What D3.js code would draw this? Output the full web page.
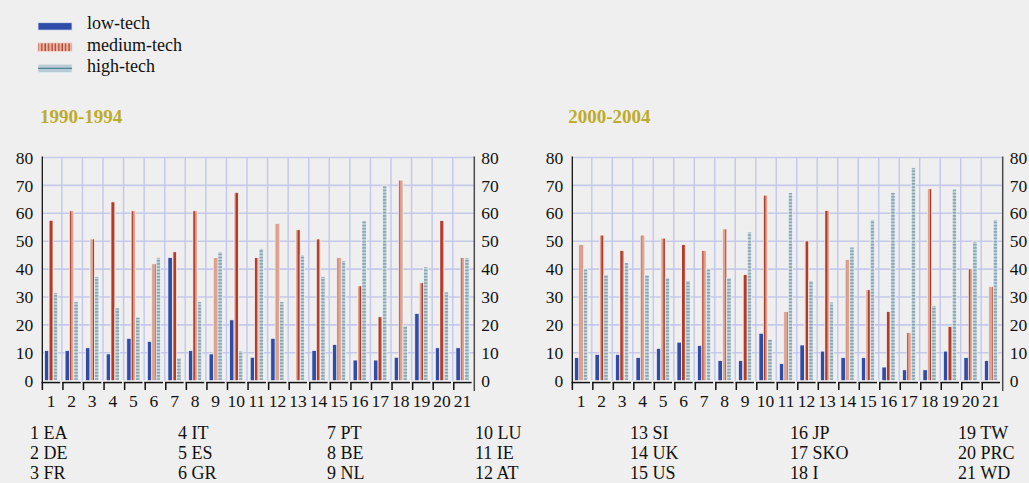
<!DOCTYPE html>
<html><head><meta charset="utf-8">
<script src="https://cdn.jsdelivr.net/npm/d3@7"></script>
<style>
html,body{margin:0;padding:0;background:#efefef;}
svg{display:block;font-family:"Liberation Serif","Times New Roman",serif;}
</style></head><body>
<svg id="chart" width="1029" height="483"></svg>
<script>
// Technology shares by country group, two periods
const categories = d3.range(1, 22).map(String);
const seriesNames = ["low-tech", "medium-tech", "high-tech"];
const periodLabels = ["1990-1994", "2000-2004"];

const low1990 = [10.8, 10.8, 11.8, 9.6, 15.2, 14.1, 44.1, 10.8, 9.6, 21.8, 8.4, 15.2, 0, 10.8, 13.0, 7.4, 7.4, 8.4, 24.1, 11.8, 11.8];
const med1990 = [57.5, 60.9, 50.8, 64.1, 60.9, 41.9, 46.2, 60.9, 44.1, 67.5, 44.1, 56.4, 54.1, 50.8, 44.1, 34.0, 22.9, 71.9, 35.1, 57.4, 44.1];
const high1990 = [31.6, 28.4, 37.4, 26.1, 22.8, 44.2, 8.2, 28.4, 46.2, 10.8, 47.4, 28.4, 45.1, 37.4, 43.0, 57.4, 69.9, 19.6, 40.8, 31.8, 44.1];

const low2000 = [8.3, 9.4, 9.4, 8.3, 11.6, 13.8, 12.6, 7.2, 7.2, 17.0, 6.1, 12.8, 10.6, 8.3, 8.3, 4.9, 3.9, 3.9, 10.6, 8.3, 7.2];
const med2000 = [48.8, 52.2, 46.7, 52.2, 51.1, 48.8, 46.7, 54.4, 38.0, 66.5, 24.8, 50.1, 61.0, 43.5, 32.6, 24.8, 17.3, 68.8, 19.4, 40.1, 33.8];
const high2000 = [40.1, 38.0, 42.4, 38.0, 36.9, 35.9, 40.1, 36.9, 53.3, 14.9, 67.5, 35.9, 28.2, 47.9, 57.8, 67.5, 76.4, 26.9, 68.7, 50.0, 57.8];

const yTicks = [0, 10, 20, 30, 40, 50, 60, 70, 80];

const countryLabels = ["1 EA", "2 DE", "3 FR", "4 IT", "5 ES", "6 GR", "7 PT", "8 BE", "9 NL", "10 LU",
  "11 IE", "12 AT", "13 SI", "14 UK", "15 US", "16 JP", "17 SKO", "18 I", "19 TW", "20 PRC", "21 WD"];

const panels = [
  { title: periodLabels[0], series: [low1990, med1990, high1990], left: 42.3, right: 474.3, titleX: 40 },
  { title: periodLabels[1], series: [low2000, med2000, high2000], left: 572.3, right: 1002.7, titleX: 568.3 }
];

const plotTop = 157.5, plotZero = 380.7;
const fills = ["#2f4ca8", "url(#hatchMed)", "url(#hatchHigh)"];

const svg = d3.select("#chart");
const defs = svg.append("defs");

// vertical hatch for medium-tech bars
const pm = defs.append("pattern").attr("id", "hatchMed")
  .attr("patternUnits", "userSpaceOnUse").attr("width", 6.2).attr("height", 10);
pm.append("rect").attr("width", 6.2).attr("height", 10).attr("fill", "#dea391");
pm.append("rect").attr("x", 0).attr("width", 2.8).attr("height", 10).attr("fill", "#b23c2b");

// horizontal hatch for high-tech bars
const ph = defs.append("pattern").attr("id", "hatchHigh")
  .attr("patternUnits", "userSpaceOnUse").attr("width", 10).attr("height", 3.2);
ph.append("rect").attr("width", 10).attr("height", 3.2).attr("fill", "#c3d3da");
ph.append("rect").attr("y", 1).attr("width", 10).attr("height", 1.1).attr("fill", "#6a95a4");

// legend hatch for medium-tech swatch
const pl = defs.append("pattern").attr("id", "legMed")
  .attr("patternUnits", "userSpaceOnUse").attr("width", 3.4).attr("height", 10);
pl.append("rect").attr("width", 3.4).attr("height", 10).attr("fill", "#e8b6a6");
pl.append("rect").attr("x", 0.4).attr("width", 1.3).attr("height", 10).attr("fill", "#b4442f");

// ---- legend ----
const legend = svg.append("g");
const legRows = [
  { y: 26.4, h: 7.4, baseline: 29.3 },
  { y: 47.2, h: 8.6, baseline: 50.7 },
  { y: 68.4, h: 8.4, baseline: 72 }
];
seriesNames.forEach((name, i) => {
  const r = legRows[i];
  const g = legend.append("g");
  if (i === 0) {
    g.append("rect").attr("x", 38).attr("y", r.y - r.h / 2).attr("width", 34).attr("height", r.h)
      .attr("fill", "#2f4ca8").attr("stroke", "#dfe6f5").attr("stroke-width", 0.8);
  } else if (i === 1) {
    g.append("rect").attr("x", 38).attr("y", r.y - r.h / 2).attr("width", 34).attr("height", r.h)
      .attr("fill", "url(#legMed)").attr("stroke", "#f6dcd3").attr("stroke-width", 0.8);
  } else {
    g.append("rect").attr("x", 38).attr("y", r.y - r.h / 2).attr("width", 34).attr("height", r.h)
      .attr("fill", "#b8cbd4").attr("stroke", "#e3edf1").attr("stroke-width", 0.8);
    g.append("line").attr("x1", 38).attr("x2", 72).attr("y1", r.y).attr("y2", r.y)
      .attr("stroke", "#4f8598").attr("stroke-width", 1.2);
  }
  g.append("text").attr("x", 87).attr("y", r.baseline).attr("font-size", 18).attr("fill", "#111").text(name);
});

// ---- panels ----
panels.forEach(p => {
  const g = svg.append("g");
  const x0 = d3.scaleBand().domain(categories).range([p.left, p.right]).padding(0);
  const bw = x0.bandwidth();
  const x1 = d3.scaleBand().domain(seriesNames).range([2.2, 15.4]).padding(0);
  const y = d3.scaleLinear().domain([0, 80]).range([plotZero, plotTop]);

  // title
  g.append("text").attr("x", p.titleX).attr("y", 123).attr("font-size", 19).attr("font-weight", "bold")
    .attr("fill", "#bdac2c").text(p.title);

  // horizontal gridlines
  g.append("g").selectAll("line").data(yTicks.filter(t => t > 0)).join("line")
    .attr("x1", p.left).attr("x2", p.right).attr("y1", d => y(d)).attr("y2", d => y(d))
    .attr("stroke", "#c6c9ea").attr("stroke-width", 1.6);

  // vertical gridlines at category boundaries
  g.append("g").selectAll("line").data(categories.slice(1)).join("line")
    .attr("x1", d => x0(d) - 1).attr("x2", d => x0(d) - 1).attr("y1", plotTop).attr("y2", plotZero)
    .attr("stroke", "#c3c7ec").attr("stroke-width", 1.4);

  // bars
  seriesNames.forEach((s, si) => {
    g.append("g").selectAll("rect").data(categories).join("rect")
      .attr("x", c => x0(c) + x1(s))
      .attr("width", x1.bandwidth())
      .attr("y", (c, i) => y(p.series[si][i]))
      .attr("height", (c, i) => plotZero - y(p.series[si][i]))
      .attr("fill", fills[si])
      .attr("stroke", "#f7f7f7").attr("stroke-width", 0.7)
      .attr("display", (c, i) => p.series[si][i] > 0 ? null : "none");
  });

  // left axis
  const la = g.append("g").attr("transform", `translate(${p.left},0)`)
    .call(d3.axisLeft(y).tickValues(yTicks).tickSize(0).tickPadding(9));
  la.select(".domain").remove();
  la.selectAll("text").attr("font-size", 17.5).attr("font-family", "Liberation Serif, serif").attr("fill", "#111");
  g.append("line").attr("x1", p.left).attr("x2", p.left).attr("y1", plotTop - 1).attr("y2", plotZero + 1.5)
    .attr("stroke", "#111").attr("stroke-width", 1.3);

  // right axis
  const ra = g.append("g").attr("transform", `translate(${p.right},0)`)
    .call(d3.axisRight(y).tickValues(yTicks).tickSize(0).tickPadding(7));
  ra.select(".domain").remove();
  ra.selectAll("text").attr("font-size", 17.5).attr("font-family", "Liberation Serif, serif").attr("fill", "#111");
  g.append("line").attr("x1", p.right).attr("x2", p.right).attr("y1", plotTop - 1).attr("y2", 391)
    .attr("stroke", "#4a4a4a").attr("stroke-width", 1.5);

  // category hooks along the baseline: a short drop at each boundary and a run to the next
  const hooks = g.append("g").attr("fill", "#111");
  hooks.selectAll("rect.drop").data(categories).join("rect").attr("class", "drop")
    .attr("x", c => x0(c) - 0.7).attr("y", 382).attr("width", 1.5).attr("height", 8);
  hooks.selectAll("rect.run").data(categories).join("rect").attr("class", "run")
    .attr("x", c => x0(c) - 0.7).attr("y", 381.8).attr("width", bw - 2).attr("height", 1.5);

  // category numbers
  const groupMid = (x1.range()[0] + x1.range()[1]) / 2;
  g.append("g").selectAll("text").data(categories).join("text")
    .attr("x", c => x0(c) + groupMid).attr("y", 407)
    .attr("text-anchor", "middle").attr("font-size", 17.5).attr("fill", "#111").text(c => c);
});

// ---- country key ----
const keyX = [30, 178, 327, 475, 630, 790, 958];
const keyY = [439, 459, 479];
svg.append("g").selectAll("text").data(countryLabels).join("text")
  .attr("x", (d, i) => keyX[Math.floor(i / 3)])
  .attr("y", (d, i) => keyY[i % 3])
  .attr("font-size", 18).attr("fill", "#111").text(d => d);
</script>
</body></html>
